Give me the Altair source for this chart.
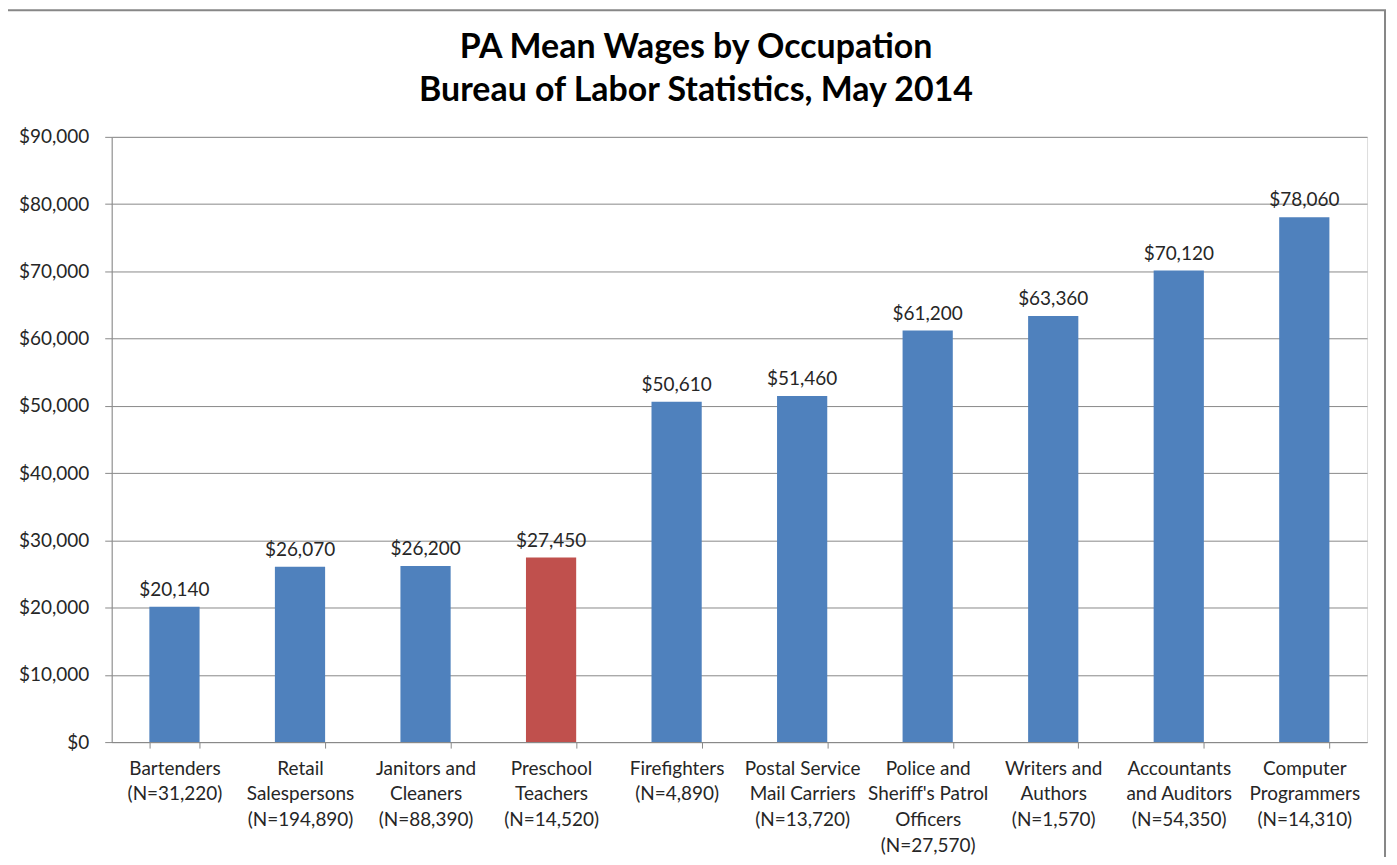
import altair as alt
import pandas as pd

occupations = [
    "Bartenders|(N=31,220)",
    "Retail|Salespersons|(N=194,890)",
    "Janitors and|Cleaners|(N=88,390)",
    "Preschool|Teachers|(N=14,520)",
    "Firefighters|(N=4,890)",
    "Postal Service|Mail Carriers|(N=13,720)",
    "Police and|Sheriff's Patrol|Officers|(N=27,570)",
    "Writers and|Authors|(N=1,570)",
    "Accountants|and Auditors|(N=54,350)",
    "Computer|Programmers|(N=14,310)",
]
wages = [20140, 26070, 26200, 27450, 50610, 51460, 61200, 63360, 70120, 78060]
highlight = [False, False, False, True, False, False, False, False, False, False]
title_lines = ["PA Mean Wages by Occupation", "Bureau of Labor Statistics, May 2014"]

df = pd.DataFrame({"occ": occupations, "wage": wages, "hl": highlight})
df["label"] = ["$" + format(w, ",") for w in wages]

FONT = "Lato"
GRID = "#898989"
TEXT = "#262626"
FS = 19

x_enc = alt.X(
    "occ:N",
    sort=occupations,
    scale=alt.Scale(paddingInner=0.6, paddingOuter=0.3),
    axis=alt.Axis(
        title=None,
        labelAngle=0,
        labelExpr="split(datum.label, '|')",
        labelLineHeight=26,
        labelFontSize=FS,
        labelFont=FONT,
        labelColor=TEXT,
        labelPadding=11,
        tickBand="extent",
        tickSize=6,
        tickColor=GRID,
        domainColor=GRID,
        labelLimit=200,
        labelBaseline="top",
    ),
)

y_enc = alt.Y(
    "wage:Q",
    scale=alt.Scale(domain=[0, 90000], nice=False),
    axis=alt.Axis(
        title=None,
        values=list(range(0, 90001, 10000)),
        labelExpr="'$' + format(datum.value, ',')",
        labelFontSize=FS,
        labelFont=FONT,
        labelColor=TEXT,
        labelPadding=16,
        tickSize=7,
        tickColor=GRID,
        domainColor=GRID,
        gridColor=GRID,
        gridWidth=1,
    ),
)

bars = alt.Chart(df).mark_bar().encode(
    x=x_enc,
    y=y_enc,
    color=alt.Color(
        "hl:N",
        scale=alt.Scale(domain=[False, True], range=["#4F81BD", "#C0504D"]),
        legend=None,
    ),
)

labels = alt.Chart(df).mark_text(
    baseline="bottom", dy=-7, fontSize=FS, font=FONT, color=TEXT
).encode(
    x=alt.X("occ:N", sort=occupations),
    y="wage:Q",
    text="label:N",
)

frame = alt.Chart(pd.DataFrame({"a": [0]})).mark_rect(
    fill=None, stroke="#878787", strokeWidth=2
).encode(
    x=alt.value(-105),
    x2=alt.value(1277),
    y=alt.value(-127),
    y2=alt.value(740),
)

title1 = alt.Chart(pd.DataFrame({"t": [title_lines[0]]})).mark_text(
    font=FONT, fontSize=34, fontWeight="bold", color="#000000", baseline="middle"
).encode(x=alt.value(586), y=alt.value(-89), text="t:N")

title2 = alt.Chart(pd.DataFrame({"t": [title_lines[1]]})).mark_text(
    font=FONT, fontSize=34, fontWeight="bold", color="#000000", baseline="middle"
).encode(x=alt.value(586), y=alt.value(-46), text="t:N")

chart = (
    alt.layer(frame, bars, labels, title1, title2)
    .properties(
        width=1259,
        height=607,
        padding={"left": 104, "top": 128, "right": 22, "bottom": 114},
        autosize=alt.AutoSizeParams(type="none"),
    )
    .configure_view(stroke=None)
    .configure(background="white")
)

chart.save("out.html", embed_options={"renderer": "svg", "actions": False})
